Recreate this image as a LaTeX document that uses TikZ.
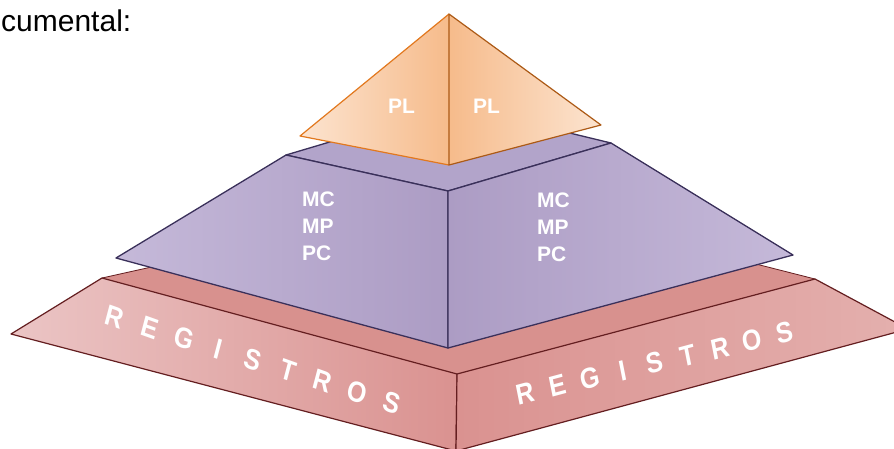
\documentclass[tikz,border=0pt]{standalone}
\usepackage{fontspec}
\setmainfont{Liberation Sans}
\definecolor{redEdge}{RGB}{100,30,32}
\definecolor{redTop}{RGB}{216,145,142}
\definecolor{redLight}{RGB}{235,197,197}
\definecolor{redDark}{RGB}{218,146,144}
\definecolor{redRight}{RGB}{228,176,174}
\definecolor{purEdge}{RGB}{58,48,90}
\definecolor{purLight}{RGB}{197,185,217}
\definecolor{purDark}{RGB}{172,156,196}
\definecolor{purTopA}{RGB}{178,164,202}
\definecolor{purTopB}{RGB}{208,199,226}
\definecolor{oraLight}{RGB}{252,228,208}
\definecolor{oraDark}{RGB}{246,187,139}
\definecolor{oraEdge}{RGB}{226,120,30}
\definecolor{oraEdgeDark}{RGB}{172,90,22}
\tikzset{
  redface/.style={draw=redEdge, line width=1.2pt, line join=round},
  purface/.style={draw=purEdge, line width=1.3pt, line join=round},
  oraface/.style={draw=oraEdge, line width=1.2pt, line join=round},
  lbl/.style={text=white, font=\bfseries\fontsize{21}{21}\selectfont, inner sep=0pt},
  reg/.style={text=white, font=\bfseries\fontsize{29}{29}\selectfont, inner sep=0pt, xscale=0.86},
}
\begin{document}
\begin{tikzpicture}[x=1pt,y=-1pt]
\useasboundingbox (0,0) rectangle (894,448);
\clip (0,0) rectangle (894,448);

% heading fragment
\node[anchor=base west, inner sep=0pt, font=\fontsize{30}{30}\selectfont] (head) at (1,31) {cumental:};

% ---------- base slab ----------
\coordinate (rL) at (102,278);
\coordinate (rB) at (480,194);
\coordinate (rR) at (815,279);
\coordinate (rF) at (457,374);
\coordinate (rLB) at (11,334);
\coordinate (rFB) at (456,451);
\coordinate (rRB) at (908,329);
\fill[redTop] (rL) -- (rB) -- (rR) -- (rF) -- cycle;
\draw[redface, line width=0.8pt] (rL) -- (rB) -- (rR);
\shade[left color=redLight, right color=redDark] (rL) -- (rF) -- (rFB) -- (rLB) -- cycle;
\draw[redface] (rL) -- (rF) -- (rFB) -- (rLB) -- cycle;
\shade[left color=redDark, right color=redRight] (rF) -- (rR) -- (rRB) -- (rFB) -- cycle;
\draw[redface] (rF) -- (rR) -- (rRB) -- (rFB) -- cycle;

% ---------- middle frustum ----------
\coordinate (pL) at (286,155);
\coordinate (pB) at (454,105);
\coordinate (pR) at (611,143);
\coordinate (pF) at (448,191);
\coordinate (pLB) at (116,258);
\coordinate (pFB) at (448,348);
\coordinate (pRB) at (793,255);
\shade[left color=purTopA, middle color=purTopB, right color=purTopA] (pL) -- (pB) -- (pR) -- (pF) -- cycle;
\draw[purface] (pL) -- (pB) -- (pR) -- (pF) -- cycle;
\shade[left color=purLight, right color=purDark] (pL) -- (pF) -- (pFB) -- (pLB) -- cycle;
\draw[purface] (pL) -- (pF) -- (pFB) -- (pLB) -- cycle;
\shade[left color=purDark, right color=purLight] (pF) -- (pR) -- (pRB) -- (pFB) -- cycle;
\draw[purface] (pF) -- (pR) -- (pRB) -- (pFB) -- cycle;

% ---------- top pyramid ----------
\coordinate (oA) at (449,14);
\coordinate (oL) at (300,136);
\coordinate (oF) at (449,165);
\coordinate (oR) at (601,125);
\shade[left color=oraLight, right color=oraDark] (oA) -- (oL) -- (oF) -- cycle;
\shade[left color=oraDark, right color=oraLight] (oA) -- (oF) -- (oR) -- cycle;
\draw[oraface] (oF) -- (oL) -- (oA);
\draw[oraface, draw=oraEdgeDark] (oA) -- (oF) -- (oR) -- cycle;

% ---------- labels ----------
\node[lbl, anchor=base west] (plL) at (388,113) {PL};
\node[lbl, anchor=base west] (plR) at (473,113) {PL};

\node[lbl, anchor=base west] (mcL) at (302,206) {MC};
\node[lbl, anchor=base west] (mpL) at (302,233) {MP};
\node[lbl, anchor=base west] (pcL) at (302,260) {PC};
\node[lbl, anchor=base west] (mcR) at (537,207) {MC};
\node[lbl, anchor=base west] (mpR) at (537,234) {MP};
\node[lbl, anchor=base west] (pcR) at (537,261) {PC};

\foreach \ch [count=\i from 0] in {R,E,G,I,S,T,R,O,S} {
  \node[reg, rotate=-17] (regL\i) at ({115+34.6*\i},{317+10.75*\i}) {\ch};
  \node[reg, rotate=13] (regR\i) at ({525+32.5*\i},{393-7.5*\i}) {\ch};
}
\end{tikzpicture}
\end{document}
